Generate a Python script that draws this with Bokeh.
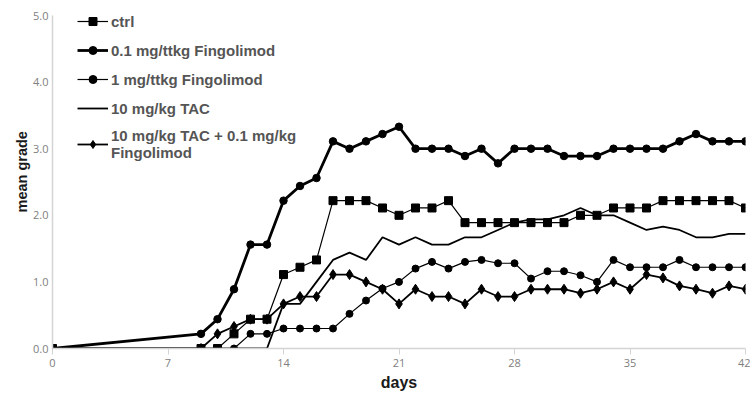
from bokeh.plotting import figure
from bokeh.models import Range1d, FixedTicker, PrintfTickFormatter, Legend, LegendItem, Title
from bokeh.embed import file_html
from bokeh.resources import INLINE

days = [0, 9, 10, 11, 12, 13, 14, 15, 16, 17, 18, 19, 20, 21, 22, 23, 24, 25, 26,
        27, 28, 29, 30, 31, 32, 33, 34, 35, 36, 37, 38, 39, 40, 41, 42]

ctrl = [0, 0, 0, 0.22, 0.44, 0.44, 1.11, 1.22, 1.33, 2.22, 2.22, 2.22, 2.11, 2.0,
        2.11, 2.11, 2.22, 1.89, 1.89, 1.89, 1.89, 1.89, 1.89, 1.89, 2.0, 2.0, 2.11,
        2.11, 2.11, 2.22, 2.22, 2.22, 2.22, 2.22, 2.11]

fingo_01 = [0, 0.22, 0.44, 0.89, 1.56, 1.56, 2.22, 2.44, 2.56, 3.11, 3.0, 3.11, 3.22,
            3.33, 3.0, 3.0, 3.0, 2.89, 3.0, 2.78, 3.0, 3.0, 3.0, 2.89, 2.89, 2.89, 3.0,
            3.0, 3.0, 3.0, 3.11, 3.22, 3.11, 3.11, 3.11]

fingo_1 = [0, 0, 0, 0, 0.22, 0.22, 0.3, 0.3, 0.3, 0.3, 0.52, 0.72, 0.9, 1.0, 1.2, 1.3,
           1.2, 1.3, 1.33, 1.28, 1.28, 1.05, 1.16, 1.16, 1.1, 1.0, 1.33, 1.22, 1.22,
           1.22, 1.33, 1.22, 1.22, 1.22, 1.22]

tac = [0, 0, 0, 0, 0, 0, 0.67, 0.67, 1.0, 1.33, 1.44, 1.33, 1.67, 1.56, 1.67, 1.56,
       1.56, 1.67, 1.67, 1.78, 1.89, 1.94, 1.94, 2.0, 2.11, 2.0, 2.0, 1.89, 1.78, 1.83,
       1.78, 1.67, 1.67, 1.72, 1.72]

tac_fingo = [0, 0, 0.22, 0.33, 0.44, 0.44, 0.67, 0.78, 0.78, 1.11, 1.11, 1.0, 0.89,
             0.67, 0.89, 0.78, 0.78, 0.67, 0.89, 0.78, 0.78, 0.89, 0.89, 0.89, 0.83,
             0.89, 1.0, 0.89, 1.11, 1.06, 0.94, 0.89, 0.83, 0.94, 0.89]

x_ticks = [0, 7, 14, 21, 28, 35, 42]
y_ticks = [0, 1, 2, 3, 4, 5]

labels = ["ctrl", "0.1 mg/ttkg Fingolimod", "1 mg/ttkg Fingolimod", "10 mg/kg TAC",
          "10 mg/kg TAC + 0.1 mg/kg\nFingolimod"]
x_title = "days"
y_title = "mean grade"

p = figure(width=750, height=396, output_backend="svg", toolbar_location=None,
           x_range=Range1d(0, 42), y_range=Range1d(0, 5),
           min_border_left=52, min_border_right=5, min_border_top=15, min_border_bottom=48)

p.xgrid.visible = False
p.ygrid.visible = False
p.outline_line_color = None

for ax in (p.xaxis[0], p.yaxis[0]):
    ax.axis_line_color = "#d4d4d4"
    ax.axis_line_width = 1.5
    ax.major_tick_line_color = "#d4d4d4"
    ax.minor_tick_line_color = None
    ax.major_label_text_color = "#808080"
    ax.major_label_text_font = "Open Sans"
    ax.major_label_text_font_size = "11px"
    ax.axis_label_text_font = "Liberation Sans"
    ax.axis_label_text_font_style = "bold"
    ax.axis_label_text_font_size = "16px"
    ax.axis_label_text_color = "#1a1a1a"

p.xaxis.ticker = FixedTicker(ticks=x_ticks)
p.xaxis.major_tick_out = 6
p.xaxis.major_tick_in = 0
p.xaxis.major_label_standoff = 4
p.xaxis.axis_label = x_title
p.xaxis.axis_label_standoff = 4

p.yaxis.ticker = FixedTicker(ticks=y_ticks)
p.yaxis.formatter = PrintfTickFormatter(format="%.1f")
p.yaxis.major_tick_out = 0
p.yaxis.major_tick_in = 0
p.yaxis.major_label_standoff = 4

# y-axis title as a side title so it can sit a little above the frame centre
ytitle = Title(text=y_title, align="left", offset=136, standoff=2,
               text_font="Liberation Sans", text_font_style="bold",
               text_font_size="14.5px", text_color="#1a1a1a")
p.add_layout(ytitle, "left")

col = "black"

tl = p.line(days, tac, line_color=col, line_width=1.8)

l5 = p.line(days, tac_fingo, line_color=col, line_width=1.8)
m5 = p.scatter(days, tac_fingo, marker="diamond", size=10, color=col)

l3 = p.line(days, fingo_1, line_color=col, line_width=1.2)
m3 = p.scatter(days, fingo_1, marker="circle", size=7, color=col)

l1 = p.line(days, ctrl, line_color=col, line_width=1.2)
m1 = p.scatter(days, ctrl, marker="square", size=8, color=col)

l2 = p.line(days, fingo_01, line_color=col, line_width=2.8)
m2 = p.scatter(days, fingo_01, marker="circle", size=7.5, color=col)

items = [
    LegendItem(label=labels[0], renderers=[l1, m1]),
    LegendItem(label=labels[1], renderers=[l2, m2]),
    LegendItem(label=labels[2], renderers=[l3, m3]),
    LegendItem(label=labels[3], renderers=[tl]),
    LegendItem(label=labels[4], renderers=[l5, m5]),
]
legend = Legend(items=items, location=(25, 187), orientation="vertical",
                background_fill_alpha=0, border_line_color=None,
                padding=0, margin=0, spacing=9, glyph_width=31, glyph_height=20,
                label_height=20, label_standoff=3,
                label_text_font="Liberation Sans", label_text_font_style="bold",
                label_text_font_size="15px", label_text_color="#555555")
p.add_layout(legend, "center")

open("out.html", "w").write(file_html(p, INLINE))
